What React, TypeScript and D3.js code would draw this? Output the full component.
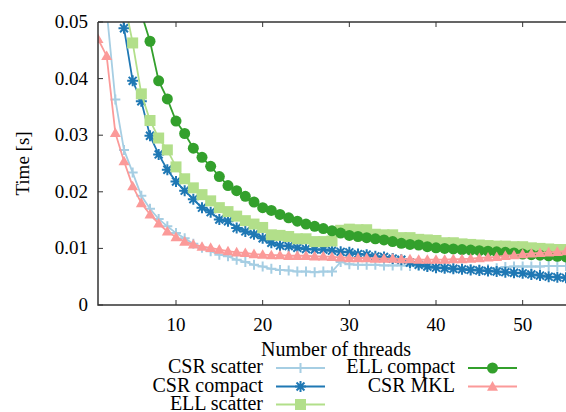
import React from "react";
import * as d3 from "d3";

const threads = d3.range(1, 56);
const xTicks = [10, 20, 30, 40, 50];
const yTicks = [0, 0.01, 0.02, 0.03, 0.04, 0.05];
const yTickLabels = ["0", "0.01", "0.02", "0.03", "0.04", "0.05"];

const csrScatter = [0.1, 0.052, 0.0363, 0.0274, 0.0234, 0.0193, 0.017, 0.0152, 0.0139, 0.0127, 0.0118, 0.0108, 0.0101, 0.0095, 0.0089, 0.0086, 0.008, 0.0076, 0.0071, 0.0068, 0.0064, 0.0062, 0.0061, 0.0059, 0.0059, 0.0058, 0.0059, 0.0059, 0.0076, 0.0072, 0.0071, 0.0071, 0.0071, 0.007, 0.007, 0.007, 0.0069, 0.0069, 0.0068, 0.0067, 0.0066, 0.0065, 0.0064, 0.0063, 0.0063, 0.0063, 0.0065, 0.0067, 0.0068, 0.0068, 0.0068, 0.0068, 0.0069, 0.0069, 0.0069];
const csrCompact = [0.19, 0.1, 0.065, 0.0489, 0.0396, 0.036, 0.0299, 0.0266, 0.0239, 0.0218, 0.0202, 0.0187, 0.0172, 0.0164, 0.0151, 0.0148, 0.0136, 0.013, 0.0125, 0.0118, 0.011, 0.0105, 0.0104, 0.0101, 0.0099, 0.0098, 0.0098, 0.0096, 0.0094, 0.0093, 0.009, 0.0089, 0.0086, 0.0085, 0.0082, 0.008, 0.0075, 0.0071, 0.0068, 0.0066, 0.0065, 0.0064, 0.0063, 0.0062, 0.0061, 0.006, 0.0059, 0.0058, 0.0057, 0.0056, 0.0054, 0.0052, 0.005, 0.0049, 0.0048];
const ellScatter = [0.19, 0.1, 0.07, 0.054, 0.0463, 0.0373, 0.0326, 0.0295, 0.0274, 0.0244, 0.0223, 0.0207, 0.0195, 0.0184, 0.0172, 0.0165, 0.0157, 0.0149, 0.0143, 0.0137, 0.0124, 0.0123, 0.0121, 0.0117, 0.0117, 0.0112, 0.0112, 0.0113, 0.0132, 0.0134, 0.0133, 0.0133, 0.0125, 0.0124, 0.0124, 0.0119, 0.0119, 0.0116, 0.0115, 0.0114, 0.011, 0.011, 0.0108, 0.0107, 0.0106, 0.0105, 0.0104, 0.0104, 0.0103, 0.0103, 0.0101, 0.01, 0.0099, 0.0098, 0.0098];
const ellCompact = [0.3, 0.16, 0.105, 0.08, 0.065, 0.0515, 0.0466, 0.0396, 0.0364, 0.0325, 0.0303, 0.0277, 0.0261, 0.0245, 0.0227, 0.0211, 0.0202, 0.0192, 0.0182, 0.0172, 0.0167, 0.016, 0.0154, 0.0148, 0.0143, 0.0139, 0.0135, 0.0131, 0.0127, 0.0123, 0.0121, 0.0119, 0.0117, 0.0115, 0.0112, 0.0109, 0.0107, 0.0106, 0.0103, 0.0101, 0.01, 0.0099, 0.0098, 0.0097, 0.0096, 0.0095, 0.0094, 0.0093, 0.0092, 0.009, 0.0089, 0.0088, 0.0087, 0.0086, 0.0085];
const csrMkl = [0.047, 0.044, 0.0304, 0.0254, 0.021, 0.018, 0.016, 0.0144, 0.013, 0.012, 0.0112, 0.0107, 0.0103, 0.0101, 0.0098, 0.0095, 0.0093, 0.0092, 0.009, 0.0089, 0.0088, 0.0088, 0.0087, 0.0087, 0.0087, 0.0086, 0.0086, 0.0085, 0.0084, 0.0083, 0.0083, 0.0083, 0.0082, 0.0082, 0.0082, 0.0081, 0.0081, 0.008, 0.008, 0.008, 0.008, 0.0081, 0.0081, 0.0082, 0.0083, 0.0084, 0.0085, 0.0087, 0.0088, 0.009, 0.0091, 0.0092, 0.0093, 0.0094, 0.0095];

const seriesNames = ["CSR scatter", "CSR compact", "ELL scatter", "ELL compact", "CSR MKL"];
const seriesValues = [csrScatter, csrCompact, ellScatter, ellCompact, csrMkl];
const seriesColors = ["#a6cee3", "#1f78b4", "#b2df8a", "#33a02c", "#fb9a99"];
const seriesMarkers = ["plus", "asterisk", "square", "circle", "triangle"];

const W = 566;
const H = 412;
const M = { left: 98, right: 566, top: 22, bottom: 305 };
const FONT = "'Liberation Serif', 'Times New Roman', serif";

function Marker({ kind, x, y, color }: { kind: string; x: number; y: number; color: string }) {
  if (kind === "plus") {
    const s = 5;
    return <path d={`M${x - s},${y}H${x + s}M${x},${y - s}V${y + s}`} stroke={color} strokeWidth={2} fill="none" />;
  }
  if (kind === "asterisk") {
    const s = 5.5;
    const d = s * 0.72;
    return (
      <path
        d={`M${x - s},${y}H${x + s}M${x},${y - s}V${y + s}M${x - d},${y - d}L${x + d},${y + d}M${x - d},${y + d}L${x + d},${y - d}`}
        stroke={color}
        strokeWidth={2}
        fill="none"
      />
    );
  }
  if (kind === "square") {
    const s = 5.5;
    return <rect x={x - s} y={y - s} width={2 * s} height={2 * s} fill={color} />;
  }
  if (kind === "circle") {
    return <circle cx={x} cy={y} r={5.5} fill={color} />;
  }
  const s = 5.5;
  return <path d={`M${x},${y - s}L${x + s},${y + s * 0.75}L${x - s},${y + s * 0.75}Z`} fill={color} />;
}

export default function App() {
  const x = d3.scaleLinear().domain([1, 55]).range([M.left, M.right]);
  const y = d3.scaleLinear().domain([0, 0.05]).range([M.bottom, M.top]);
  const line = d3
    .line<number>()
    .x((_, i) => x(threads[i]))
    .y((d) => y(d));

  const legendCols = [
    { textRight: 263, lineX0: 276, lineX1: 325 },
    { textRight: 455, lineX0: 468, lineX1: 517 },
  ];
  const legendRows = [373, 391.5, 409.5];

  return (
    <svg width={W} height={H} style={{ position: "absolute", left: 0, top: 0, background: "#fff" }} fontFamily={FONT}>
      <defs>
        <clipPath id="plotclip">
          <rect x={M.left} y={M.top} width={M.right - M.left} height={M.bottom - M.top} />
        </clipPath>
      </defs>
      <g clipPath="url(#plotclip)">
        {seriesValues.map((vals, si) => (
          <g key={si}>
            <path d={line(vals) || ""} fill="none" stroke={seriesColors[si]} strokeWidth={1.8} />
            {vals.map((v, i) => (
              <Marker key={i} kind={seriesMarkers[si]} x={x(threads[i])} y={y(v)} color={seriesColors[si]} />
            ))}
          </g>
        ))}
      </g>
      <path d={`M${M.left},${M.top}H${M.right}M${M.left},${M.top}V${M.bottom}H${M.right}`} stroke="#333" strokeWidth={1.5} fill="none" />
      {xTicks.map((t) => (
        <g key={t}>
          <line x1={x(t)} x2={x(t)} y1={M.bottom} y2={M.bottom - 5} stroke="#333" strokeWidth={1} />
          <line x1={x(t)} x2={x(t)} y1={M.top} y2={M.top + 5} stroke="#333" strokeWidth={1} />
          <text x={x(t)} y={331} textAnchor="middle" fontSize={19} fill="#000">
            {t}
          </text>
        </g>
      ))}
      {yTicks.map((t, i) => (
        <g key={t}>
          <line x1={M.left} x2={M.left + 5} y1={y(t)} y2={y(t)} stroke="#333" strokeWidth={1} />
          <text x={88} y={y(t) + 6} textAnchor="end" fontSize={19} fill="#000">
            {yTickLabels[i]}
          </text>
        </g>
      ))}
      <text transform={`translate(29,${(M.top + M.bottom) / 2}) rotate(-90)`} textAnchor="middle" fontSize={19} fill="#000">
        Time [s]
      </text>
      <text x={336} y={356} textAnchor="middle" fontSize={20} fill="#000">
        Number of threads
      </text>
      {seriesNames.map((name, si) => {
        const col = legendCols[si < 3 ? 0 : 1];
        const ry = legendRows[si < 3 ? si : si - 3];
        const ly = ry - 5;
        return (
          <g key={name}>
            <text x={col.textRight} y={ry} textAnchor="end" fontSize={20} fill="#000">
              {name}
            </text>
            <line x1={col.lineX0} x2={col.lineX1} y1={ly} y2={ly} stroke={seriesColors[si]} strokeWidth={1.8} />
            <Marker kind={seriesMarkers[si]} x={(col.lineX0 + col.lineX1) / 2} y={ly} color={seriesColors[si]} />
          </g>
        );
      })}
    </svg>
  );
}
